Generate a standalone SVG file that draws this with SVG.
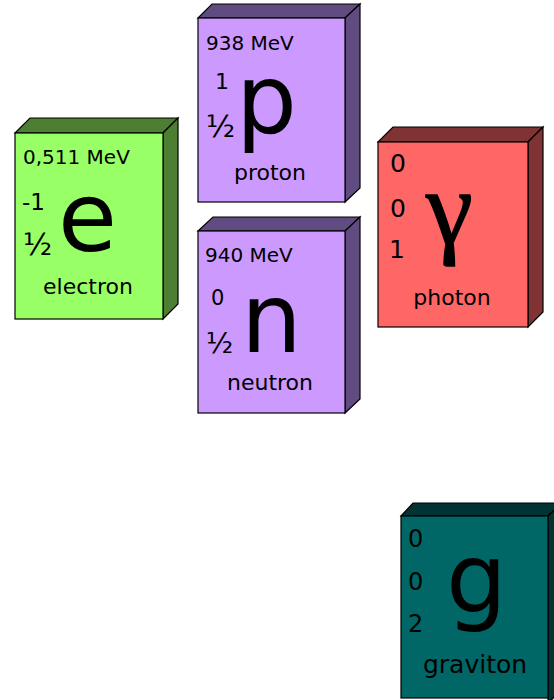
<svg xmlns="http://www.w3.org/2000/svg" width="554" height="700" viewBox="0 0 554 700">
<style>
.f{stroke:#000;stroke-width:1.2;stroke-linejoin:miter}
.t{font-family:"DejaVu Sans",sans-serif;fill:#000}
.m{font-size:20px}
.h{font-size:30px}
.big{font-size:96px}
.lbl{font-size:22px;text-anchor:middle}
.g1{fill:#99ff66}.g2{fill:#4d7f32}
.p1{fill:#cc99ff}.p2{fill:#604c80}
.r1{fill:#ff6666}.r2{fill:#803333}
.c1{fill:#006666}.c2{fill:#003333}
</style>
<rect width="554" height="700" fill="#fff"/>
<g id="electron">
  <polygon class="f g2" points="15,133 30,118 178,118 163,133"/>
  <polygon class="f g2" points="163,133 178,118 178,304 163,319"/>
  <rect class="f g1" x="15" y="133" width="148" height="186"/>
  <text class="t m" x="23" y="164">0,511 MeV</text>
  <text class="t" style="font-size:23px" x="22" y="210">-1</text>
  <text class="t h" x="23" y="255">½</text>
  <text class="t big" x="58" y="251">e</text>
  <text class="t lbl" x="88" y="294">electron</text>
</g>
<g id="proton">
  <polygon class="f p2" points="198,18 212,4 360,4 345,18"/>
  <polygon class="f p2" points="345,18 360,4 360,188 345,202"/>
  <rect class="f p1" x="198" y="18" width="147" height="184"/>
  <text class="t m" x="206" y="50">938 MeV</text>
  <text class="t" style="font-size:22px" x="215" y="89">1</text>
  <text class="t h" x="206" y="137">½</text>
  <text class="t big" x="236" y="133">p</text>
  <text class="t lbl" x="270" y="180">proton</text>
</g>
<g id="neutron">
  <polygon class="f p2" points="198,231 213,217 360,217 345,231"/>
  <polygon class="f p2" points="345,231 360,217 360,399 345,413"/>
  <rect class="f p1" x="198" y="231" width="147" height="182"/>
  <text class="t m" x="205" y="262">940 MeV</text>
  <text class="t" style="font-size:21px" x="211" y="305">0</text>
  <text class="t" style="font-size:28px" x="206" y="353">½</text>
  <text class="t big" x="241" y="352">n</text>
  <text class="t lbl" x="270" y="390">neutron</text>
</g>
<g id="photon">
  <polygon class="f r2" points="378,142 393,127 543,127 528,142"/>
  <polygon class="f r2" points="528,142 543,127 543,312 528,327"/>
  <rect class="f r1" x="378" y="142" width="150" height="185"/>
  <text class="t" style="font-size:25px" x="390" y="172">0</text>
  <text class="t" style="font-size:25px" x="390" y="217">0</text>
  <text class="t" style="font-size:25px" x="389" y="258">1</text>
  <text style="font-family:'Liberation Serif',serif;font-size:106px;stroke:#000;stroke-width:1.3" x="426" y="243">γ</text>
  <text class="t lbl" x="452" y="305">photon</text>
</g>
<g id="graviton">
  <polygon class="f c2" points="401,516 413,503 562,503 548,516"/>
  <polygon class="f c2" points="548,516 562,503 562,690 548,703"/>
  <rect class="f c1" x="401" y="516" width="147" height="182"/>
  <text class="t" style="font-size:24px" x="408" y="547">0</text>
  <text class="t" style="font-size:24px" x="408" y="590">0</text>
  <text class="t" style="font-size:24px" x="408" y="632">2</text>
  <text class="t big" x="446" y="612">g</text>
  <text class="t lbl" style="font-size:25px" x="475" y="673">graviton</text>
</g>
<g id="connectors"></g>
</svg>
